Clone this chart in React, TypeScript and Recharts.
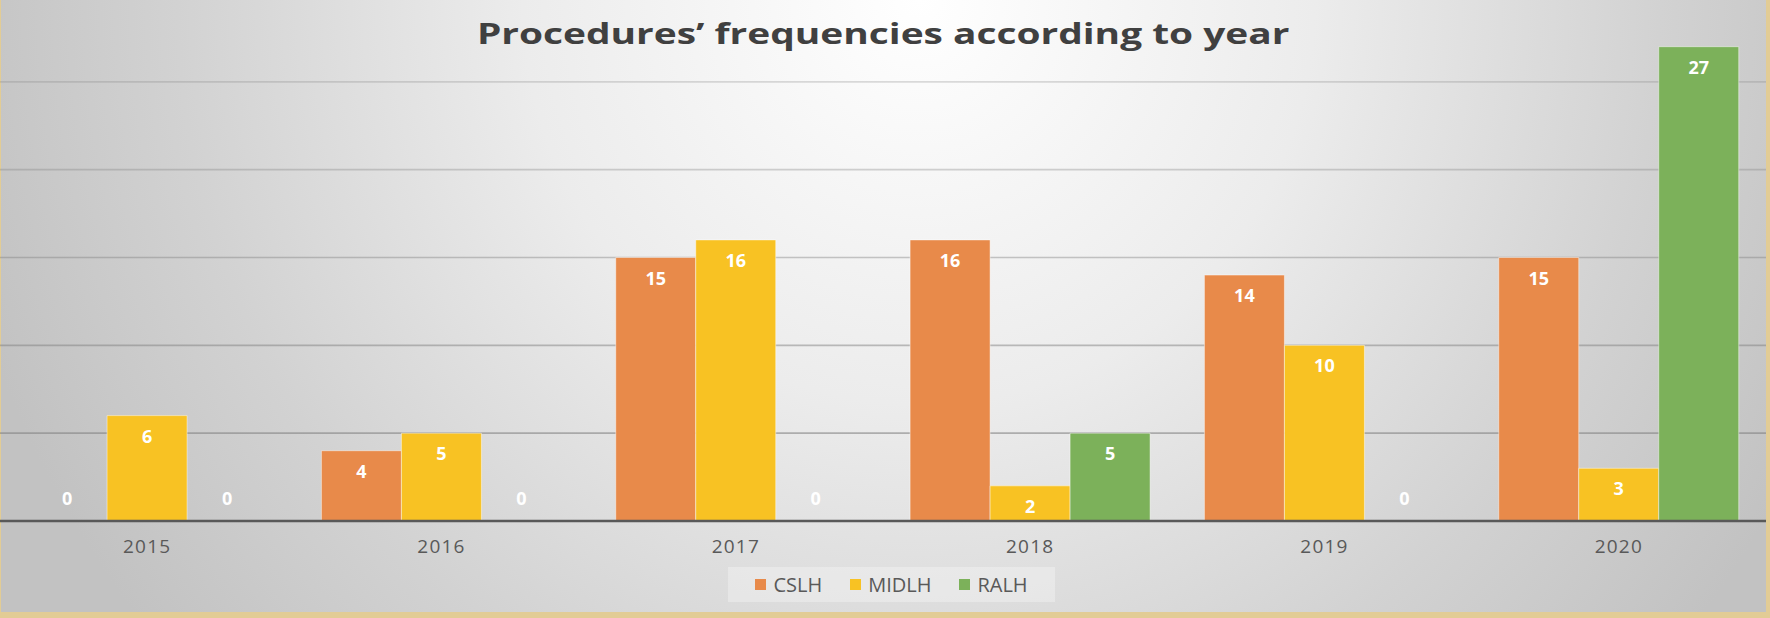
import React from 'react';
import { BarChart, Bar, XAxis, YAxis, CartesianGrid, LabelList, Rectangle } from 'recharts';

// Procedures per year
const years = ['2015', '2016', '2017', '2018', '2019', '2020'];
const cslh = [0, 4, 15, 16, 14, 15];
const midlh = [6, 5, 16, 2, 10, 3];
const ralh = [0, 0, 0, 5, 0, 27];
const yTicks = [0, 5, 10, 15, 20, 25, 30];

const series = [
  { key: 'CSLH', color: '#E88A4A' },
  { key: 'MIDLH', color: '#F8C223' },
  { key: 'RALH', color: '#7CB15A' },
];

const data = years.map((year, i) => ({
  year,
  CSLH: cslh[i],
  MIDLH: midlh[i],
  RALH: ralh[i],
}));

const FONT = '"Open Sans", "DejaVu Sans", sans-serif';
const PLOT_H = 527;

// White value labels: inside the top of the bar, just above the axis for zeros
const renderValueLabel = (props: any) => {
  const { x, y, width, height, value } = props;
  const cx = Number(x) + Number(width) / 2;
  const isZero = Number(value) === 0;
  const cy = isZero ? Number(y) + Number(height) - 23 : Number(y) + 20;
  return (
    <text
      x={cx}
      y={cy}
      textAnchor="middle"
      dominantBaseline="central"
      fill="#ffffff"
      fontSize={18}
      fontWeight={700}
      fontFamily={FONT}
    >
      {value}
    </text>
  );
};

// zero-valued bars get a 1px placeholder (so labels show) that is not drawn
const makeShape = (key: string) => (props: any) => {
  if (!props.payload || Number(props.payload[key]) === 0) return <g />;
  return <Rectangle {...props} />;
};

const renderYearTick = (props: any) => {
  const { x, y, payload } = props;
  return (
    <text
      x={x}
      y={Number(y) + 32}
      textAnchor="middle"
      fill="#595959"
      fontSize={19}
      fontFamily={FONT}
      letterSpacing={1.2}
    >
      {payload.value}
    </text>
  );
};

// Grid lines get darker towards the bottom, as in the picture
const renderGridLine = (props: any) => {
  const { x1, x2, y1, y2 } = props;
  const op = 0.2 + 0.45 * (Number(y1) / PLOT_H);
  return <line x1={x1} x2={x2} y1={y1} y2={y2} stroke="#808080" strokeOpacity={op} strokeWidth={1.6} />;
};

export default function App() {
  return (
    <div
      style={{
        position: 'absolute',
        left: 0,
        top: 0,
        width: 1770,
        height: 618,
        overflow: 'hidden',
        background: '#e2cc95',
        fontFamily: FONT,
      }}
    >
      <div
        style={{
          position: 'absolute',
          left: 1,
          top: 0,
          width: 1765,
          height: 612,
          background:
            'radial-gradient(ellipse 56% 165% at 52% 0%, #ffffff 0%, #ececec 40%, #d2d2d2 75%, #c2c2c2 100%)',
        }}
      />

      <div style={{ position: 'absolute', left: 0, top: -6 }}>
        <BarChart
          width={1766}
          height={PLOT_H + 60}
          data={data}
          margin={{ top: 0, right: 0, left: 0, bottom: 0 }}
          barCategoryGap="9.2%"
          barGap={0}
        >
          <CartesianGrid vertical={false} horizontal={renderGridLine} />
          <XAxis
            dataKey="year"
            height={60}
            tickSize={0}
            tickMargin={0}
            tickLine={false}
            axisLine={{ stroke: '#595959', strokeWidth: 2.5 }}
            tick={renderYearTick}
            interval={0}
          />
          <YAxis hide domain={[0, 30]} ticks={yTicks} />
          {series.map((s) => (
            <Bar
              key={s.key}
              dataKey={s.key}
              fill={s.color}
              stroke="#ffffff"
              strokeOpacity={0.45}
              strokeWidth={1}
              minPointSize={1}
              shape={makeShape(s.key)}
              isAnimationActive={false}
            >
              <LabelList dataKey={s.key} content={renderValueLabel} />
            </Bar>
          ))}
        </BarChart>
      </div>

      <div
        style={{
          position: 'absolute',
          left: 0,
          top: 13,
          width: 1766,
          textAlign: 'center',
          pointerEvents: 'none',
        }}
      >
        <span
          style={{
            display: 'inline-block',
            fontSize: 29,
            fontWeight: 700,
            color: '#404040',
            transform: 'scaleX(1.34)',
            transformOrigin: 'center',
            whiteSpace: 'nowrap',
          }}
        >
          Procedures’ frequencies according to year
        </span>
      </div>

      <div
        style={{
          position: 'absolute',
          left: 728,
          top: 567,
          width: 327,
          height: 35,
          background: 'rgba(255,255,255,0.3)',
          display: 'flex',
          alignItems: 'center',
          justifyContent: 'center',
          gap: 28,
          fontSize: 20,
          color: '#595959',
        }}
      >
        {series.map((s) => (
          <div key={s.key} style={{ display: 'flex', alignItems: 'center', gap: 7 }}>
            <span style={{ width: 11, height: 11, background: s.color, display: 'inline-block' }} />
            <span>{s.key}</span>
          </div>
        ))}
      </div>
    </div>
  );
}
